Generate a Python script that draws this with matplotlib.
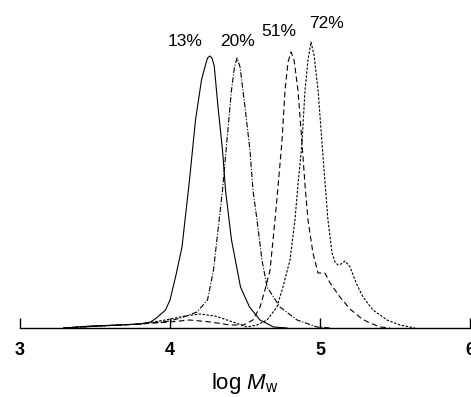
"""GPC traces: log Mw distribution at four conversions."""
import matplotlib
matplotlib.use("Agg")
import matplotlib.pyplot as plt

plt.rcParams["font.family"] = ["Liberation Sans", "DejaVu Sans"]
plt.rcParams["mathtext.fontset"] = "custom"
plt.rcParams["mathtext.rm"] = "Liberation Sans"
plt.rcParams["mathtext.it"] = "Liberation Sans:italic"

# values (x = log Mw, y = detector response, arbitrary units)
x13 = [3.29, 3.47, 3.67, 3.80, 3.87, 3.91, 3.97, 4.00, 4.04, 4.08, 4.13, 4.17, 4.21,
       4.24, 4.25, 4.265, 4.28, 4.295, 4.32, 4.35, 4.37, 4.41, 4.47, 4.53, 4.60, 4.69, 4.78]
y13 = [0, 2, 3, 4, 6, 10, 18, 28, 53, 81, 148, 208, 248,
       265, 270, 272, 270, 262, 221, 178, 138, 88, 41, 21, 8, 1, 0]

x20 = [3.29, 3.53, 3.80, 4.00, 4.09, 4.18, 4.25, 4.29, 4.32, 4.35, 4.38, 4.41, 4.43,
       4.447, 4.467, 4.50, 4.533, 4.553, 4.58, 4.613, 4.647, 4.733, 4.847, 4.98, 5.07]
y20 = [0, 2, 4, 7, 11, 16, 28, 58, 98, 138, 188, 238, 261,
       270, 261, 221, 178, 138, 108, 68, 41, 21, 8, 1, 0]

x51 = [3.29, 3.53, 3.80, 4.00, 4.13, 4.27, 4.40, 4.49, 4.553, 4.60, 4.633, 4.667, 4.70,
       4.727, 4.747, 4.767, 4.787, 4.807, 4.827, 4.853, 4.88, 4.90, 4.92, 4.953, 4.987,
       5.033, 5.067, 5.133, 5.20, 5.28, 5.333, 5.40, 5.467]
y51 = [0, 2, 4, 6, 8, 6, 3, 3, 8, 21, 38, 58, 108,
       153, 188, 238, 266, 276, 268, 238, 185, 143, 108, 75, 55,
       55, 45, 31, 19, 9, 5, 1, 0]

x72 = [3.29, 3.53, 3.80, 3.97, 4.10, 4.20, 4.30, 4.40, 4.513, 4.58, 4.647, 4.713, 4.753,
       4.80, 4.833, 4.853, 4.88, 4.90, 4.92, 4.94, 4.96, 4.987, 5.007, 5.027, 5.053,
       5.08, 5.10, 5.12, 5.14, 5.167, 5.20, 5.247, 5.287, 5.353, 5.447, 5.533, 5.633]
y72 = [0, 2, 4, 8, 12, 14, 12, 7, 1, 3, 8, 21, 41,
       68, 108, 143, 185, 238, 268, 286, 273, 238, 198, 158, 108,
       75, 66, 63, 64, 67, 61, 43, 31, 18, 8, 3, 0]

labels = ["13%", "20%", "51%", "72%"]
label_pos = [(4.10, 287), (4.447, 286), (4.727, 296), (5.04, 305)]

fig = plt.figure(figsize=(4.71, 3.97), dpi=100)
ax = fig.add_axes([20 / 471, 69 / 397, 450 / 471, 328 / 397])

ax.plot(x13, y13, color="black", lw=0.8, linestyle="-")
ax.plot(x20, y20, color="black", lw=0.8, linestyle=(0, (5, 1.5, 1, 1.5)))
ax.plot(x51, y51, color="black", lw=0.8, linestyle=(0, (5, 3)))
ax.plot(x72, y72, color="black", lw=0.8, linestyle=(0, (2.2, 1.4)))

for lab, (lx, ly) in zip(labels, label_pos):
    ax.text(lx, ly, lab, ha="center", va="center", fontsize=12.5)

ax.set_xlim(3, 6)
ax.set_ylim(0, 328)
for side in ["left", "right", "top"]:
    ax.spines[side].set_visible(False)
ax.spines["bottom"].set_linewidth(1.0)
ax.set_yticks([])
ax.set_xticks([3, 4, 5, 6])
ax.set_xticklabels(["3", "4", "5", "6"], fontsize=13, fontweight="bold")
ax.tick_params(axis="x", direction="in", length=7, width=1.0, pad=10)
ax.set_xlabel(r"log $\mathit{M}_{\mathrm{w}}$", fontsize=16, labelpad=9)

fig.savefig("out.png", dpi=100)
